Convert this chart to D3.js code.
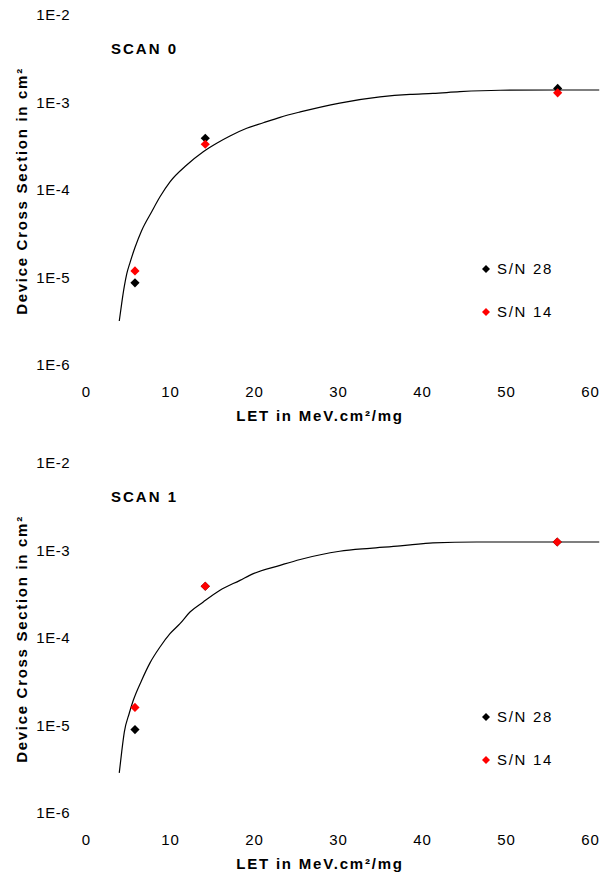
<!DOCTYPE html>
<html>
<head>
<meta charset="utf-8">
<script src="https://cdn.jsdelivr.net/npm/d3@7"></script>
<style>
  body { margin: 0; background: #fff; }
  svg { font-family: "Liberation Sans", Arial, sans-serif; }
</style>
</head>
<body>
<div id="chart-area"></div>
<script>
// LET values of the measured points (MeV.cm2/mg)
const scan0LET = [5.83, 14.2, 56.15];
const scan0SN28 = [8.7e-6, 3.9e-4, 1.45e-3];
const scan0SN14 = [1.19e-5, 3.33e-4, 1.29e-3];
// fitted curve, scan 0
const scan0FitLET = [3.96, 4.25, 4.56, 4.85, 5.24, 5.83, 6.63, 7.82, 8.81, 10.0, 11.99, 13.96, 15.56, 17.14, 19.13, 21.11, 23.1, 25.5, 30.2, 35.0, 38.6, 41.3, 44.5, 49.3, 56.1, 61.1];
const scan0Fit = [3.18e-6, 5.07e-6, 7.9e-6, 1.1e-5, 1.48e-5, 2.2e-5, 3.45e-5, 5.65e-5, 8.38e-5, 1.24e-4, 1.93e-4, 2.74e-4, 3.42e-4, 4.14e-4, 5.07e-4, 5.87e-4, 6.77e-4, 7.8e-4, 9.86e-4, 1.16e-3, 1.24e-3, 1.27e-3, 1.33e-3, 1.38e-3, 1.39e-3, 1.39e-3];

const scan1LET = [5.83, 14.2, 56.1];
const scan1SN28 = [8.98e-6, 3.9e-4, 1.25e-3];
const scan1SN14 = [1.61e-5, 3.9e-4, 1.25e-3];
const scan1FitLET = [3.96, 4.25, 4.56, 5.15, 5.63, 6.63, 7.62, 8.81, 10.0, 11.19, 12.38, 13.96, 15.95, 18.33, 19.92, 23.1, 25.5, 30.2, 33.8, 37.4, 38.6, 41.3, 46.5, 61.1];
const scan1Fit = [2.87e-6, 5.0e-6, 8.4e-6, 1.38e-5, 1.94e-5, 3.29e-5, 5.2e-5, 7.89e-5, 1.12e-4, 1.46e-4, 1.98e-4, 2.58e-4, 3.51e-4, 4.56e-4, 5.44e-4, 6.77e-4, 7.9e-4, 9.8e-4, 1.06e-3, 1.13e-3, 1.16e-3, 1.22e-3, 1.25e-3, 1.25e-3];

const xTicks = [0, 10, 20, 30, 40, 50, 60];
const yTicks = [1e-2, 1e-3, 1e-4, 1e-5, 1e-6];
const seriesNames = ["S/N 28", "S/N 14"];
const seriesColors = ["#000000", "#ff0000"];

const width = 613, height = 878;
const svg = d3.select("#chart-area")
    .append("svg")
    .attr("width", width)
    .attr("height", height);

const x = d3.scaleLinear().domain([0, 60]).range([86, 590]);
const y = d3.scaleLog().domain([1e-6, 1e-2]).range([365, 15]);

const diamond = d3.symbol().type(d3.symbolSquare);

function drawPanel(offsetY, title, pts, sn28, sn14, fitLET, fit) {
    const g = svg.append("g")
        .attr("transform", "translate(0," + offsetY + ")");

    // y axis labels only
    const yAxis = g.append("g")
        .attr("transform", "translate(70,0)")
        .call(d3.axisLeft(y)
            .tickValues(yTicks)
            .tickSize(0)
            .tickPadding(0)
            .tickFormat(d => "1E" + Math.round(Math.log10(d))));
    yAxis.select(".domain").remove();
    yAxis.selectAll("text")
        .attr("font-size", 15)
        .attr("letter-spacing", 0.5)
        .attr("fill", "#000")
        .attr("font-family", "Liberation Sans, Arial, sans-serif");

    // x axis labels only
    const xAxis = g.append("g")
        .attr("transform", "translate(0,392)")
        .call(d3.axisBottom(x)
            .tickValues(xTicks)
            .tickSize(0)
            .tickPadding(0));
    xAxis.select(".domain").remove();
    xAxis.selectAll("text")
        .attr("y", 0)
        .attr("dy", "0.35em")
        .attr("font-size", 15)
        .attr("letter-spacing", 1)
        .attr("fill", "#000")
        .attr("font-family", "Liberation Sans, Arial, sans-serif");

    // axis titles
    g.append("text")
        .attr("transform", "translate(22,191) rotate(-90)")
        .attr("text-anchor", "middle")
        .attr("dy", "0.35em")
        .attr("font-size", 15)
        .attr("font-weight", "bold")
        .attr("letter-spacing", 1.7)
        .text("Device Cross Section in cm²");

    g.append("text")
        .attr("x", 320)
        .attr("y", 416)
        .attr("text-anchor", "middle")
        .attr("dy", "0.35em")
        .attr("font-size", 15)
        .attr("font-weight", "bold")
        .attr("letter-spacing", 1.8)
        .text("LET in MeV.cm²/mg");

    g.append("text")
        .attr("x", 111)
        .attr("y", 49)
        .attr("dy", "0.35em")
        .attr("font-size", 15)
        .attr("font-weight", "bold")
        .attr("letter-spacing", 2)
        .text(title);

    // fit curve
    const line = d3.line()
        .x((d, i) => x(fitLET[i]))
        .y(d => y(d))
        .curve(d3.curveMonotoneX);
    g.append("path")
        .datum(fit)
        .attr("d", line)
        .attr("fill", "none")
        .attr("stroke", "#000")
        .attr("stroke-width", 1.2);

    // data points, black first, red on top
    [sn28, sn14].forEach((vals, s) => {
        g.selectAll(".pt" + s)
            .data(vals)
            .enter()
            .append("path")
            .attr("class", "pt" + s)
            .attr("d", diamond.size(42)())
            .attr("transform", (d, i) => "translate(" + x(pts[i]) + "," + y(d) + ") rotate(45)")
            .attr("fill", seriesColors[s]);
    });

    // legend
    const legendY = [269, 312];
    seriesNames.forEach((name, s) => {
        g.append("path")
            .attr("d", diamond.size(32)())
            .attr("transform", "translate(486," + legendY[s] + ") rotate(45)")
            .attr("fill", seriesColors[s]);
        g.append("text")
            .attr("x", 497)
            .attr("y", legendY[s])
            .attr("dy", "0.35em")
            .attr("font-size", 15)
            .attr("letter-spacing", 1.7)
            .text(name);
    });
}

drawPanel(0, "SCAN 0", scan0LET, scan0SN28, scan0SN14, scan0FitLET, scan0Fit);
drawPanel(448, "SCAN 1", scan1LET, scan1SN28, scan1SN14, scan1FitLET, scan1Fit);
</script>
</body>
</html>
